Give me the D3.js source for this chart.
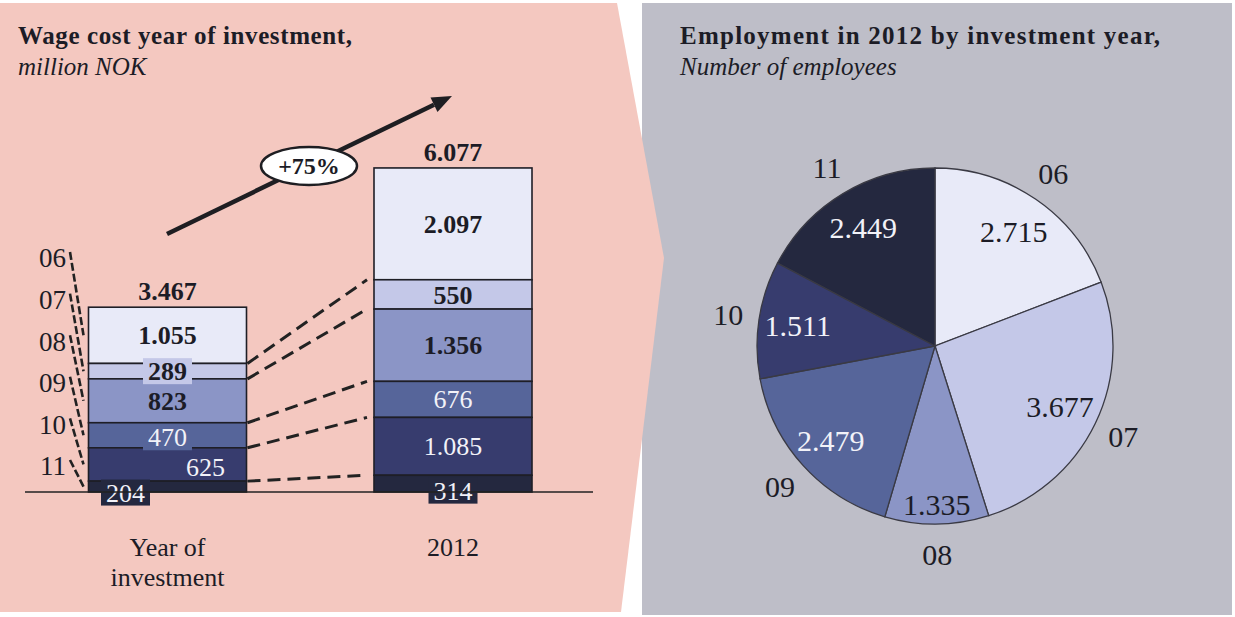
<!DOCTYPE html>
<html>
<head>
<meta charset="utf-8">
<script src="https://cdn.jsdelivr.net/npm/d3@7"></script>
<style>
  html, body { margin: 0; padding: 0; background: #ffffff; }
  svg { display: block; }
  text { font-family: "Liberation Serif", "DejaVu Serif", serif; }
</style>
</head>
<body>
<svg id="chart" width="1235" height="617"></svg>
<script>
// ---- data ----
const years = ["06", "07", "08", "09", "10", "11"];
const barCategories = ["Year of investment", "2012"];
const wageYearOfInvestment = [1055, 289, 823, 470, 625, 204];   // million NOK, by investment year
const wage2012 = [2097, 550, 1356, 676, 1085, 314];              // million NOK, by investment year
const wageTotals = [3467, 6077];
const growthLabel = "+75%";
const employment2012 = [2715, 3677, 1335, 2479, 1511, 2449];     // employees, by investment year

// ---- styling ----
const palette = ["#e8eaf8", "#c4c8e8", "#8b95c6", "#56659a", "#373c6e", "#24283f"];
const textDark = "#1c1c26";
const textLight = "#f2f2f8";
const labelIsLight = [false, false, false, true, true, true];
const pink = "#f4c8c0";
const grey = "#bebec8";

const nf = d3.formatLocale({ decimal: ",", thousands: ".", grouping: [3], currency: ["", ""] }).format(",");

const svg = d3.select("#chart");

// panels
svg.append("rect").attr("x", 642).attr("y", 3).attr("width", 590).attr("height", 612).attr("fill", grey);
svg.append("path")
  .attr("d", "M0,3 L617,3 L664,258 L621,612 L0,612 Z")
  .attr("fill", pink);

// titles
function title(xp, yp, txt, len, opts) {
  const t = svg.append("text").attr("x", xp).attr("y", yp).text(txt)
    .attr("fill", textDark).attr("font-size", opts.size)
    .attr("font-weight", opts.bold ? "bold" : "normal")
    .attr("font-style", opts.italic ? "italic" : "normal");
  if (len) t.attr("textLength", len).attr("lengthAdjust", "spacing");
  return t;
}
title(18, 44, "Wage cost year of investment,", 334, { size: 25, bold: true });
title(18, 75, "million NOK", null, { size: 25, italic: true });
title(680, 44, "Employment in 2012 by investment year,", 480, { size: 25, bold: true });
title(680, 75, "Number of employees", null, { size: 25, italic: true });

// ---- stacked bars ----
const x = d3.scalePoint().domain(barCategories).range([167.5, 453]);
const barW = 158;
const y = d3.scaleLinear().domain([0, d3.max(wageTotals)]).range([492, 168]);

const barSeries = [wageYearOfInvestment, wage2012];

// label placement tweaks for thin segments
const segLabelDx = [[0, 0, 0, 0, 38, -42], [0, 0, 0, 0, 0, 0]];
const segLabelDy = [[0, 0, 0, 2, 2, 6], [0, 0, 0, 0, 0, 7]];
const segLabelBox = [[false, true, false, true, false, true], [false, false, false, false, false, true]];

function stackTopDown(vals) {
  // index 0 is the top segment; stack from the bottom (last index) upward
  const out = [];
  let acc = 0;
  for (let i = vals.length - 1; i >= 0; i--) {
    out[i] = { i, v: vals[i], y0: acc, y1: acc + vals[i] };
    acc += vals[i];
  }
  return out;
}

const stacks = barSeries.map(stackTopDown);

// dashed connectors between the two bars (segment boundaries)
const conn = svg.append("g").attr("stroke", "#222").attr("stroke-width", 3)
  .attr("stroke-dasharray", "13,7").attr("fill", "none");
for (let i = 1; i < years.length; i++) {
  conn.append("line")
    .attr("x1", x(barCategories[0]) + barW / 2 + 1)
    .attr("y1", y(stacks[0][i].y1))
    .attr("x2", x(barCategories[1]) - barW / 2 - 7)
    .attr("y2", y(stacks[1][i].y1));
}

stacks.forEach((segs, b) => {
  const cx = x(barCategories[b]);
  const g = svg.append("g");
  g.selectAll("rect").data(segs).join("rect")
    .attr("x", cx - barW / 2)
    .attr("width", barW)
    .attr("y", d => y(d.y1))
    .attr("height", d => y(d.y0) - y(d.y1))
    .attr("fill", d => palette[d.i])
    .attr("stroke", "#1e1e26")
    .attr("stroke-width", 1.6);

  segs.forEach(d => {
    const lx = cx + segLabelDx[b][d.i];
    const ly = (y(d.y0) + y(d.y1)) / 2 + segLabelDy[b][d.i];
    const txt = nf(d.v);
    if (segLabelBox[b][d.i]) {
      const bw = txt.length * 13 + 10;
      g.append("rect")
        .attr("x", lx - bw / 2).attr("y", ly - 13)
        .attr("width", bw).attr("height", 26)
        .attr("fill", palette[d.i]);
    }
    g.append("text")
      .attr("x", lx).attr("y", ly).attr("dy", "0.35em")
      .attr("text-anchor", "middle")
      .attr("font-size", 26)
      .attr("font-weight", labelIsLight[d.i] ? "normal" : "bold")
      .attr("fill", labelIsLight[d.i] ? textLight : textDark)
      .text(txt);
  });

  // total above the bar
  svg.append("text")
    .attr("x", cx).attr("y", y(wageTotals[b]) - 16).attr("dy", "0.35em")
    .attr("text-anchor", "middle").attr("font-size", 26).attr("font-weight", "bold")
    .attr("fill", textDark).text(nf(wageTotals[b]));
});

// baseline
svg.append("line").attr("x1", 25).attr("x2", 593).attr("y1", y(0)).attr("y2", y(0))
  .attr("stroke", "#222").attr("stroke-width", 1.6);

// category labels
const catLines = [["Year of", "investment"], ["2012"]];
catLines.forEach((lines, b) => {
  lines.forEach((ln, k) => {
    svg.append("text").attr("x", x(barCategories[b])).attr("y", 556 + k * 30)
      .attr("text-anchor", "middle").attr("font-size", 26).attr("fill", textDark).text(ln);
  });
});

// year keys on the left, with dashed leaders to each segment of the first bar
const yearY = d3.scalePoint().domain(years).range([258, 466]);
const leaders = svg.append("g");
years.forEach((yr, i) => {
  const seg = stacks[0][i];
  leaders.append("text").attr("x", 66).attr("y", yearY(yr)).attr("dy", "0.35em")
    .attr("text-anchor", "end").attr("font-size", 27).attr("fill", textDark).text(yr);
  leaders.append("line")
    .attr("x1", 70).attr("y1", yearY(yr) - 6)
    .attr("x2", x(barCategories[0]) - barW / 2 - 5)
    .attr("y2", (y(seg.y0) + y(seg.y1)) / 2)
    .attr("stroke", "#222").attr("stroke-width", 2.6).attr("stroke-dasharray", "8,3");
});

// growth arrow with badge
const ax1 = 167, ay1 = 234, ax2 = 452, ay2 = 96;
const ang = Math.atan2(ay2 - ay1, ax2 - ax1);
const headL = 20, headW = 8;
const bx = ax2 - headL * Math.cos(ang), by = ay2 - headL * Math.sin(ang);
svg.append("line").attr("x1", ax1).attr("y1", ay1).attr("x2", bx).attr("y2", by)
  .attr("stroke", "#1e1e22").attr("stroke-width", 4.5);
svg.append("path")
  .attr("d", `M${ax2},${ay2} L${bx + headW * Math.sin(ang)},${by - headW * Math.cos(ang)} L${bx - headW * Math.sin(ang)},${by + headW * Math.cos(ang)} Z`)
  .attr("fill", "#1e1e22");
svg.append("ellipse").attr("cx", 309).attr("cy", 166).attr("rx", 48).attr("ry", 19)
  .attr("fill", "#ffffff").attr("stroke", "#1e1e22").attr("stroke-width", 2.5);
svg.append("text").attr("x", 309).attr("y", 166).attr("dy", "0.35em")
  .attr("text-anchor", "middle").attr("font-size", 24).attr("font-weight", "bold")
  .attr("fill", textDark).text(growthLabel);

// ---- pie ----
const pcx = 935, pcy = 346, pr = 178;
const pie = d3.pie().sort(null).value(d => d).startAngle(0).endAngle(2 * Math.PI);
const arcs = pie(employment2012);
const arc = d3.arc().innerRadius(0).outerRadius(pr);
const pg = svg.append("g").attr("transform", `translate(${pcx},${pcy})`);
pg.selectAll("path").data(arcs).join("path")
  .attr("d", arc)
  .attr("fill", (d, i) => palette[i])
  .attr("stroke", "#3a3a44").attr("stroke-width", 1.3);

const valueRadius = [0.78, 0.78, 0.89, 0.79, 0.78, 0.78];
arcs.forEach((d, i) => {
  const a = (d.startAngle + d.endAngle) / 2;
  const rv = pr * valueRadius[i];
  pg.append("text")
    .attr("x", rv * Math.sin(a)).attr("y", -rv * Math.cos(a)).attr("dy", "0.35em")
    .attr("text-anchor", "middle").attr("font-size", 30)
    .attr("fill", labelIsLight[i] ? textLight : textDark)
    .text(nf(d.data));
  const ro = 209;
  pg.append("text")
    .attr("x", ro * Math.sin(a)).attr("y", -ro * Math.cos(a)).attr("dy", "0.35em")
    .attr("text-anchor", "middle").attr("font-size", 30)
    .attr("fill", textDark).text(years[i]);
});
</script>
</body>
</html>
